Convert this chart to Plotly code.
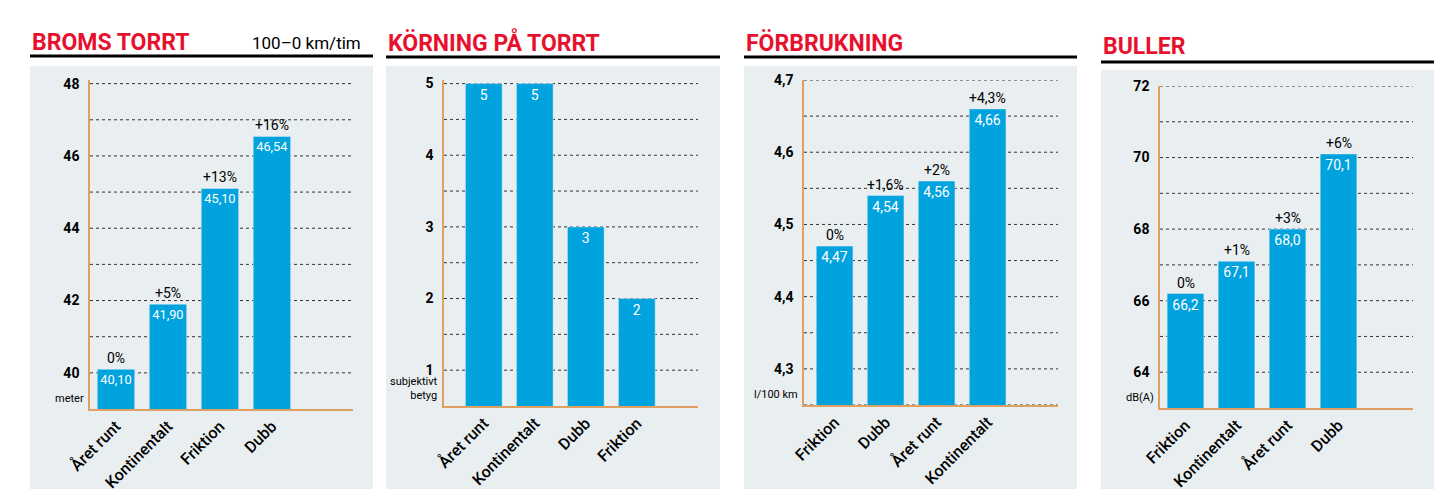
import plotly.graph_objects as go

W, H = 1443, 498

titles = ["BROMS TORRT", "KÖRNING PÅ TORRT", "FÖRBRUKNING", "BULLER"]
cats = [
    ["Året runt", "Kontinentalt", "Friktion", "Dubb"],
    ["Året runt", "Kontinentalt", "Dubb", "Friktion"],
    ["Friktion", "Dubb", "Året runt", "Kontinentalt"],
    ["Friktion", "Kontinentalt", "Året runt", "Dubb"],
]
values = [
    [40.10, 41.90, 45.10, 46.54],
    [5, 5, 3, 2],
    [4.47, 4.54, 4.56, 4.66],
    [66.2, 67.1, 68.0, 70.1],
]
labels = [
    ["40,10", "41,90", "45,10", "46,54"],
    ["5", "5", "3", "2"],
    ["4,47", "4,54", "4,56", "4,66"],
    ["66,2", "67,1", "68,0", "70,1"],
]
pcts = [
    ["0%", "+5%", "+13%", "+16%"],
    None,
    ["0%", "+1,6%", "+2%", "+4,3%"],
    ["0%", "+1%", "+3%", "+6%"],
]
units = ["meter", "subjektivt<br>betyg", "l/100 km", "dB(A)"]
yranges = [[39, 48.1], [0.5, 5.05], [4.25, 4.7], [63, 72]]
ydticks = [1, 0.5, 0.05, 1]
ytickvals = [[40, 42, 44, 46, 48], [1, 2, 3, 4, 5], [4.3, 4.4, 4.5, 4.6, 4.7], [64, 66, 68, 70, 72]]
yticktext = [["40", "42", "44", "46", "48"], ["1", "2", "3", "4", "5"],
             ["4,3", "4,4", "4,5", "4,6", "4,7"], ["64", "66", "68", "70", "72"]]
xranges = [[-0.5, 4.56], [-0.78, 4.2], [-0.6, 4.38], [-0.5, 4.46]]

# pixel geometry per panel
panels = [
    dict(bx=(22, 365), ty=35, ly=48, bt=58, px=(82, 345), pt=72, pb=401),
    dict(bx=(378, 712), ty=35, ly=49, bt=58, px=(436, 690), pt=72, pb=398),
    dict(bx=(736, 1069), ty=35, ly=49, bt=58, px=(796, 1050), pt=72, pb=397),
    dict(bx=(1093, 1426), ty=38, ly=54, bt=62, px=(1152, 1405), pt=78, pb=400),
]

fx = lambda p: p / W
fy = lambda p: 1 - p / H

BLUE = "#00a3dd"
ORANGE = "#e0a060"
RED = "#e8112d"
FONT = "Roboto"

fig = go.Figure()
shapes, annos = [], []
for i, p in enumerate(panels):
    n = "" if i == 0 else str(i + 1)
    # grey box first so grid lines sit on top of it
    shapes.append(dict(type="rect", xref="paper", yref="paper", layer="below",
                       x0=fx(p["bx"][0]), x1=fx(p["bx"][1]), y0=fy(481), y1=fy(p["bt"]),
                       fillcolor="#e9eef0", line_width=0))
    fig.add_trace(go.Bar(
        x=cats[i], y=values[i], text=labels[i], textposition="inside",
        insidetextanchor="end", textangle=0, marker_color=BLUE, width=0.72,
        textfont=dict(color="white", size=14, family=FONT),
        xaxis="x" + n, yaxis="y" + n, showlegend=False, cliponaxis=False,
    ))
    fig.layout["xaxis" + n] = dict(
        domain=[fx(p["px"][0]), fx(p["px"][1])], anchor="y" + n, automargin=False,
        range=xranges[i], tickangle=-45, showline=True, linecolor=ORANGE, linewidth=1.5,
        tickfont=dict(size=16, family=FONT, color="black", weight=500), showgrid=False,
    )
    fig.layout["yaxis" + n] = dict(
        domain=[fy(p["pb"]), fy(p["pt"])], anchor="x" + n, range=yranges[i], automargin=False,
        showline=True, linecolor=ORANGE, linewidth=1.5, showgrid=False,
        tickvals=ytickvals[i], ticktext=yticktext[i], ticks="", ticklabelstandoff=6,
        tickfont=dict(size=14, family=FONT, color="black", weight="bold"),
    )
    k = 1
    while True:
        v = round(yranges[i][0] + k * ydticks[i] - (yranges[i][0] % ydticks[i]), 4)
        if v > yranges[i][1] + 1e-9:
            break
        shapes.append(dict(type="line", xref="x" + n + " domain", yref="y" + n,
                           x0=0, x1=1, y0=v, y1=v, layer="below",
                           line=dict(color="#333", width=1, dash="dot")))
        k += 1
    shapes.append(dict(type="line", xref="paper", yref="paper",
                       x0=fx(p["bx"][0]), x1=fx(p["bx"][1]), y0=fy(p["ly"]), y1=fy(p["ly"]),
                       line=dict(color="black", width=3)))
    annos.append(dict(xref="paper", yref="paper", x=fx(p["bx"][0]), y=fy(p["ty"]),
                      xanchor="left", yanchor="middle", showarrow=False, text="<b>" + titles[i] + "</b>",
                      font=dict(size=23, color=RED, family=FONT)))
    annos.append(dict(xref="paper", yref="paper", x=fx(p["px"][0] - 4), y=fy(p["pb"] - 2),
                      xanchor="right", yanchor="bottom", showarrow=False, text=units[i],
                      align="right", font=dict(size=11, color="black", family=FONT)))
    if pcts[i]:
        for c, v, t in zip(cats[i], values[i], pcts[i]):
            annos.append(dict(xref="x" + n, yref="y" + n, x=c, y=v, yanchor="bottom",
                              showarrow=False, text=t, yshift=1,
                              font=dict(size=14, color="black", family=FONT)))

annos.append(dict(xref="paper", yref="paper", x=fx(355), y=fy(35), xanchor="right",
                  yanchor="middle", showarrow=False, text="100–0 km/tim",
                  font=dict(size=17, color="black", family=FONT)))

fig.update_layout(width=W, height=H, margin=dict(l=0, r=0, t=0, b=0, autoexpand=False),
                  paper_bgcolor="white", plot_bgcolor="rgba(0,0,0,0)",
                  shapes=shapes, annotations=annos, bargap=0.3)
fig.write_html("out.html")
